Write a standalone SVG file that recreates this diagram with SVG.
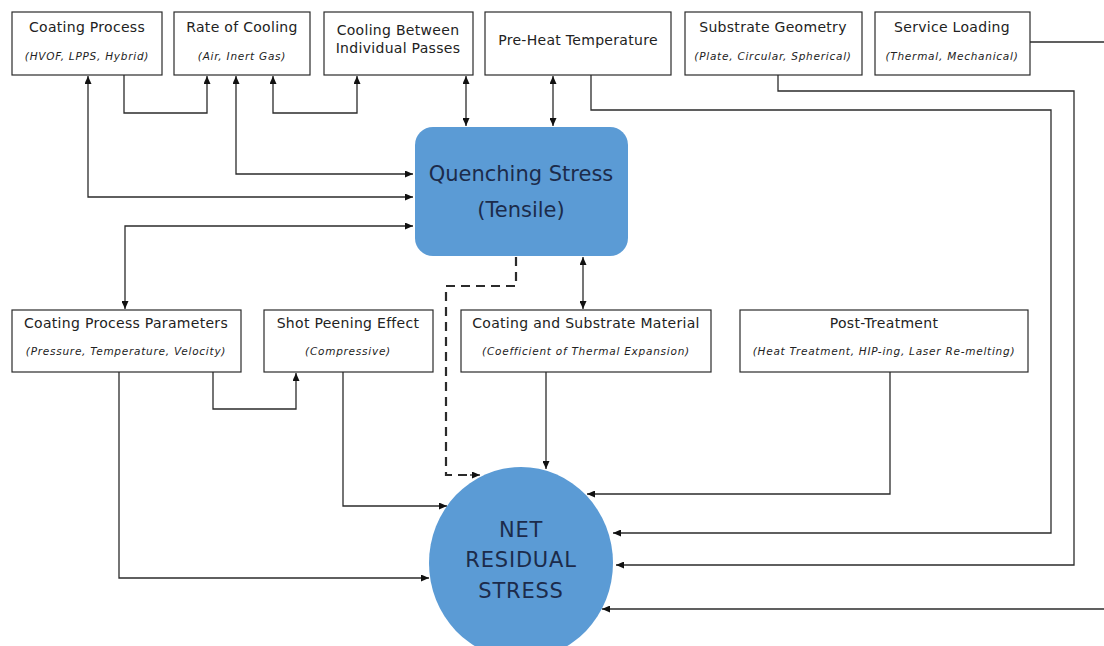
<svg xmlns="http://www.w3.org/2000/svg" width="1104" height="646" viewBox="0 0 1104 646">
<style>
.box{fill:#fff;stroke:#2b2b2b;stroke-width:1.2}
.t{font-family:"DejaVu Sans",Verdana,sans-serif;font-size:14px;letter-spacing:0.3px;fill:#222;text-anchor:middle}
.s{font-family:"DejaVu Sans",Verdana,sans-serif;font-size:10.5px;letter-spacing:0.75px;font-style:italic;fill:#222;text-anchor:middle}
.blue{fill:#5b9bd5}
.bt{font-family:"DejaVu Sans",Verdana,sans-serif;font-size:21px;fill:#1c2b4b;text-anchor:middle}
.nt{font-family:"DejaVu Sans",Verdana,sans-serif;font-size:21px;letter-spacing:0.8px;fill:#1c2b4b;text-anchor:middle}
.c{fill:none;stroke:#2b2b2b;stroke-width:1.3}
.d{stroke-dasharray:9,6;stroke-width:2.2}
</style>
<defs>
<marker id="ah" markerUnits="userSpaceOnUse" markerWidth="8" markerHeight="7" refX="8" refY="3.5" orient="auto-start-reverse"><path d="M0,0 L8,3.5 L0,7 z" fill="#111"/></marker>
</defs>
<rect width="1104" height="646" fill="#fff"/>
<g id="connectors">
<path class="c" d="M88,76 V197 H413" marker-start="url(#ah)" marker-end="url(#ah)"/>
<path class="c" d="M124,75 V113 H207 V76" marker-end="url(#ah)"/>
<path class="c" d="M236,76 V174 H413" marker-start="url(#ah)" marker-end="url(#ah)"/>
<path class="c" d="M273,76 V113 H357 V76" marker-start="url(#ah)" marker-end="url(#ah)"/>
<path class="c" d="M466,76 V126" marker-start="url(#ah)" marker-end="url(#ah)"/>
<path class="c" d="M553,76 V126" marker-start="url(#ah)" marker-end="url(#ah)"/>
<path class="c" d="M591,75 V110 H1051 V533 H613" marker-end="url(#ah)"/>
<path class="c" d="M778,75 V91 H1074 V565 H616" marker-end="url(#ah)"/>
<path class="c" d="M1030,42 H1104"/>
<path class="c" d="M1104,609 H602" marker-end="url(#ah)"/>
<path class="c" d="M413,226 H125 V309" marker-start="url(#ah)" marker-end="url(#ah)"/>
<path class="c d" d="M516,257 V286 H446 V475 H472"/>
<path class="c" d="M470,475 H480" marker-end="url(#ah)"/>
<path class="c" d="M583,257 V309" marker-start="url(#ah)" marker-end="url(#ah)"/>
<path class="c" d="M213,372 V409 H296 V373" marker-end="url(#ah)"/>
<path class="c" d="M119,372 V578 H429" marker-end="url(#ah)"/>
<path class="c" d="M343,372 V506 H447" marker-end="url(#ah)"/>
<path class="c" d="M546,372 V469" marker-end="url(#ah)"/>
<path class="c" d="M890,372 V494 H587" marker-end="url(#ah)"/>
</g>
<g id="coating-process"><rect class="box" x="12" y="12" width="150" height="63"/><text class="t" x="87" y="32">Coating Process</text><text class="s" x="87" y="60">(HVOF, LPPS, Hybrid)</text></g>
<g id="rate-of-cooling"><rect class="box" x="174" y="12" width="136" height="63"/><text class="t" x="242" y="32">Rate of Cooling</text><text class="s" x="242" y="60">(Air, Inert Gas)</text></g>
<g id="cooling-between"><rect class="box" x="324" y="12" width="149" height="63"/><text class="t" x="398" y="35">Cooling Between</text><text class="t" x="398" y="53">Individual Passes</text></g>
<g id="pre-heat"><rect class="box" x="485" y="12" width="186" height="63"/><text class="t" x="578" y="45">Pre-Heat Temperature</text></g>
<g id="substrate-geometry"><rect class="box" x="685" y="12" width="177" height="63"/><text class="t" x="773" y="32">Substrate Geometry</text><text class="s" x="773" y="60">(Plate, Circular, Spherical)</text></g>
<g id="service-loading"><rect class="box" x="875" y="12" width="155" height="63"/><text class="t" x="952" y="32">Service Loading</text><text class="s" x="952" y="60">(Thermal, Mechanical)</text></g>
<g id="quenching-stress"><rect class="blue" x="415" y="127" width="213" height="129" rx="18"/><text class="bt" x="521" y="181">Quenching Stress</text><text class="bt" x="521" y="217">(Tensile)</text></g>
<g id="coating-process-parameters"><rect class="box" x="12" y="310" width="229" height="62"/><text class="t" x="126" y="328">Coating Process Parameters</text><text class="s" x="126" y="355">(Pressure, Temperature, Velocity)</text></g>
<g id="shot-peening"><rect class="box" x="264" y="310" width="169" height="62"/><text class="t" x="348" y="328">Shot Peening Effect</text><text class="s" x="348" y="355">(Compressive)</text></g>
<g id="coating-substrate-material"><rect class="box" x="461" y="310" width="250" height="62"/><text class="t" x="586" y="328">Coating and Substrate Material</text><text class="s" x="586" y="355">(Coefficient of Thermal Expansion)</text></g>
<g id="post-treatment"><rect class="box" x="740" y="310" width="288" height="62"/><text class="t" x="884" y="328">Post-Treatment</text><text class="s" x="884" y="355">(Heat Treatment, HIP-ing, Laser Re-melting)</text></g>
<g id="net-residual-stress"><ellipse class="blue" cx="521" cy="563" rx="92" ry="96"/><text class="nt" x="521" y="537">NET</text><text class="nt" x="521" y="567">RESIDUAL</text><text class="nt" x="521" y="598">STRESS</text></g>
</svg>
